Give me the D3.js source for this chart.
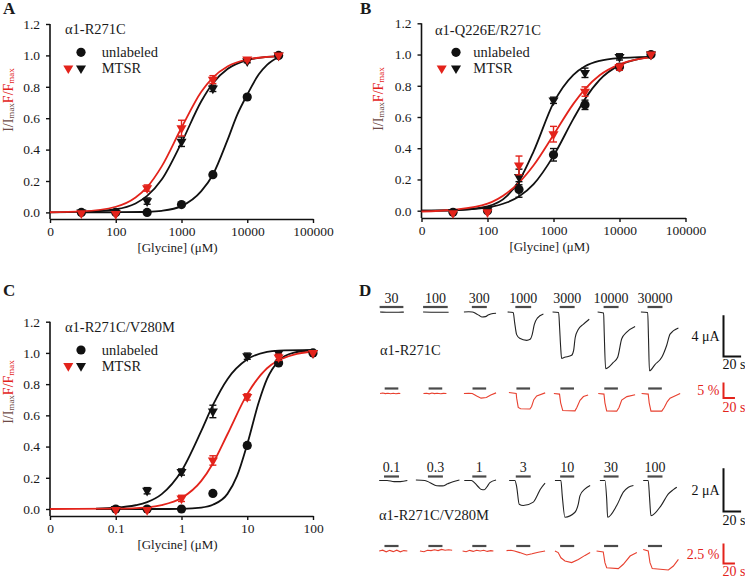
<!DOCTYPE html>
<html><head><meta charset="utf-8">
<script src="https://cdn.jsdelivr.net/npm/d3@7"></script>
<style>body{margin:0;background:#fff}svg{display:block}svg text{font-family:"Liberation Serif","Times New Roman",serif}</style>
</head><body>
<svg id="c" width="745" height="577"></svg>
<script>
// ---------------- DATA ----------------
const concAB = [30, 100, 300, 1000, 3000, 10000, 30000];
const concC = [0.1, 0.3, 1, 3, 10, 30, 100];
const xTicksAB = [10, 100, 1000, 10000, 100000];
const xTickLabelsAB = ["0", "100", "1000", "10000", "100000"];
const xTicksC = [0.01, 0.1, 1, 10, 100];
const xTickLabelsC = ["0", "0.1", "1", "10", "100"];
const yTicks = [0, 0.2, 0.4, 0.6, 0.8, 1.0, 1.2];

// Panel A: a1-R271C
const A_unlabeled = [0.0, 0.0, 0.0, 0.05, 0.24, 0.735, 1.0];
const A_unlabeledErr = [0, 0, 0, 0.01, 0.01, 0.015, 0];
const A_mtsrRed = [-0.005, -0.01, 0.155, 0.537, 0.846, 0.975, 1.0];
const A_mtsrRedErr = [0, 0, 0.02, 0.05, 0.025, 0.01, 0];
const A_mtsrBlack = [0.0, -0.005, 0.072, 0.45, 0.79, 0.963, 1.0];
const A_mtsrBlackErr = [0, 0, 0.02, 0.03, 0.02, 0.01, 0];
const A_fitRed = [[10,0.001],[30,0.006],[100,0.036],[200,0.095],[300,0.161],[500,0.293],[1000,0.539],[2000,0.768],[3000,0.859],[5000,0.929],[10000,0.974],[20000,0.99],[30000,0.995]];
const A_fitBlack = [[10,0.0005],[30,0.003],[100,0.02],[200,0.057],[300,0.105],[500,0.209],[1000,0.444],[2000,0.708],[3000,0.823],[5000,0.913],[10000,0.97],[20000,0.99],[30000,0.995]];
const A_fitUnlabeled = [[30,0],[100,0.001],[300,0.004],[500,0.01],[1000,0.04],[2000,0.135],[3000,0.24],[5000,0.46],[7000,0.62],[10000,0.75],[15000,0.88],[20000,0.94],[30000,0.99]];

// Panel B: a1-Q226E/R271C
const B_unlabeled = [-0.01, 0.0, 0.136, 0.358, 0.678, 0.92, 1.0];
const B_unlabeledErr = [0, 0, 0.05, 0.04, 0.03, 0.02, 0];
const B_mtsrRed = [-0.015, -0.01, 0.29, 0.49, 0.763, 0.92, 1.0];
const B_mtsrRedErr = [0, 0, 0.06, 0.05, 0.03, 0.02, 0];
const B_mtsrBlack = [-0.01, 0.005, 0.216, 0.707, 0.883, 0.985, 1.0];
const B_mtsrBlackErr = [0, 0.01, 0.05, 0.02, 0.03, 0.02, 0];
const B_fitRed = [[10,-0.005],[30,0.006],[100,0.045],[200,0.115],[300,0.18],[500,0.291],[1000,0.485],[2000,0.684],[3000,0.779],[5000,0.867],[10000,0.937],[20000,0.972],[30000,0.982]];
const B_fitBlack = [[10,0],[30,0.003],[100,0.028],[200,0.096],[300,0.19],[500,0.38],[1000,0.69],[2000,0.87],[3000,0.925],[5000,0.96],[10000,0.978],[20000,0.983],[30000,0.985]];
const B_fitUnlabeled = [[10,0.001],[30,0.004],[100,0.021],[200,0.054],[300,0.091],[500,0.17],[1000,0.351],[2000,0.588],[3000,0.716],[5000,0.838],[10000,0.932],[20000,0.973],[30000,0.985]];

// Panel C: a1-R271C/V280M
const C_unlabeled = [0.0, 0.0, 0.0, 0.10, 0.407, 0.936, 1.0];
const C_unlabeledErr = [0, 0, 0, 0.01, 0.015, 0.01, 0];
const C_mtsrRed = [-0.006, -0.006, 0.068, 0.311, 0.718, 0.972, 1.0];
const C_mtsrRedErr = [0, 0, 0.02, 0.03, 0.02, 0.02, 0];
const C_mtsrBlack = [0.0, 0.117, 0.237, 0.625, 0.979, 1.0, 1.0];
const C_mtsrBlackErr = [0, 0.02, 0.02, 0.04, 0.02, 0.01, 0];
const C_fitRed = [[0.01,0],[0.1,0.002],[0.3,0.011],[0.5,0.025],[1,0.07],[2,0.18],[3,0.292],[5,0.479],[10,0.736],[20,0.902],[30,0.953],[50,0.988],[100,1.009]];
const C_fitBlack = [[0.05,0.003],[0.1,0.008],[0.2,0.024],[0.3,0.044],[0.5,0.095],[1,0.243],[2,0.5],[3,0.665],[5,0.832],[10,0.959],[20,1.007],[30,1.015],[100,1.02]];
const C_fitUnlabeled = [[0.05,0],[0.5,0],[1,0.001],[2,0.009],[3,0.027],[5,0.097],[7,0.212],[10,0.415],[15,0.685],[20,0.833],[30,0.949],[50,1.001],[100,1.017]];

// Panel D: traces, [time (s, relative to application centre), value]
const D_labelsR271C = ["30", "100", "300", "1000", "3000", "10000", "30000"];
const D_labelsV280M = ["0.1", "0.3", "1", "3", "10", "30", "100"];
const D_barDurR271C_I = [27, 28, 17, 18, 17, 17, 17];
const D_barDurR271C_F = [15.5, 15.5, 15.5, 15.5, 15.5, 15.5, 15.5];
const D_barDurV280M_I = [17, 17, 16, 17, 16, 17, 17];
const D_barDurV280M_F = [16, 16, 16, 16, 16, 16, 16];
// current (uA)
const D_R271C_current = [
  [[-13,0],[-6,-0.02],[2,-0.03],[8,-0.02],[14,-0.01]],
  [[-14,0],[-5,-0.02],[4,-0.03],[15,-0.02]],
  [[-17.5,0],[-12,0.02],[-8,0],[-4,-0.15],[0,-0.35],[3,-0.48],[7,-0.45],[10,-0.3],[13,-0.2],[19,-0.12]],
  [[-17.8,0],[-11.4,-0.05],[-9.8,-1.0],[-7.5,-2.2],[-4.1,-2.55],[3.9,-2.75],[7.8,-2.65],[10.3,-2.15],[12.6,-1.2],[16,-0.6],[22.9,-0.2]],
  [[-16.6,0],[-9.7,-0.05],[-8.6,-1.5],[-7.4,-3.4],[-6.3,-4.5],[-2.9,-4.4],[5.1,-4.2],[7.4,-3.7],[9.1,-2.5],[12.6,-1.7],[18.3,-1.2],[25.1,-0.7]],
  [[-15.3,0],[-8.5,-0.1],[-7.8,-2],[-6.2,-5.5],[2.5,-4.9],[7.5,-4.4],[12.1,-2.6],[17.8,-1.95],[27.3,-1.4]],
  [[-16,0],[-8.3,-0.05],[-7.4,-2.5],[-6.3,-5.7],[0,-5.1],[7.7,-4.4],[13.4,-3.2],[17.1,-2.15],[26.6,-1.55]]
];
// fluorescence (%)
const D_R271C_fluor = [
  [[-13,0],[-10,0.15],[-7,-0.05],[-4,0.1],[-1,-0.1],[2,0.1],[5,-0.1],[8,0.05],[10,0]],
  [[-13.6,0],[-10,0.1],[-7,-0.1],[-4,0.15],[-1,-0.05],[2,0.1],[6,-0.1],[9,0.05],[12.5,0]],
  [[-17.5,0],[-12,0.1],[-8,0],[-3,-0.8],[2,-1.5],[8,-1.3],[13,-0.5],[19,0.2]],
  [[-16.3,0.3],[-8,0],[-7.5,-1.5],[-5.7,-4.5],[-3,-4.9],[7.6,-5.0],[9.5,-4.2],[12,-2],[15.3,-0.8],[24.9,0.2]],
  [[-15.1,0],[-8.7,-0.2],[-7.4,-3],[-5,-5.5],[8.9,-5.6],[11,-4.5],[14.6,-2.2],[18.5,-1],[23.8,-0.5]],
  [[-14.6,0],[-8.1,-0.2],[-7,-3],[-5,-5.6],[6.4,-5.7],[9,-4.5],[12.1,-2.1],[18,-1],[27.3,-0.4]],
  [[-15.2,0],[-7.7,-0.2],[-6.6,-3],[-4.6,-5.7],[7.7,-5.7],[10.5,-4.5],[14,-2.6],[17.1,-1.5],[28.6,0]]
];
const D_V280M_current = [
  [[-14,0],[-5,0],[3,-0.05],[10,-0.05],[18,0]],
  [[-22.2,0.02],[-12,0],[-6,-0.1],[1.5,-0.24],[8,-0.25],[14,-0.15],[20,-0.06],[27.3,0.02]],
  [[-17.1,0],[-9,0],[-5,-0.12],[-1,-0.3],[2.5,-0.42],[5.5,-0.43],[8.5,-0.3],[12,-0.1],[19,0.02]],
  [[-16,0],[-9.5,0],[-7.5,-0.28],[-4.6,-1.1],[0,-1.16],[11.4,-1.0],[15.3,-0.74],[19.1,-0.43],[24.8,-0.12]],
  [[-13.9,0],[-7.1,0],[-5.6,-0.7],[-2.5,-1.7],[8.9,-1.47],[12.7,-1.08],[14.6,-0.7],[20.3,-0.39],[26.1,-0.23]],
  [[-12.7,0],[-7,0],[-5,-0.85],[-3.9,-1.7],[6.4,-1.16],[13.9,-0.54],[19.7,-0.31],[25.4,-0.23]],
  [[-13.4,0],[-7.7,0],[-6.1,-0.85],[-4.6,-1.63],[6.9,-1.16],[15.2,-0.62],[20.9,-0.42],[24.8,-0.31]]
];
const D_V280M_fluor = [
  [[-14,0],[-10,0.1],[-6,-0.1],[-2,0.08],[2,-0.08],[6,0.1],[10,-0.1],[14,0.05],[18,0]],
  [[-17.6,0],[-13,-0.1],[-9,0.1],[-5,0.05],[-1,0.15],[3,0.05],[7,0.2],[11,0.1],[15,0.15],[19,0.1]],
  [[-19,0],[-15,-0.1],[-11,0.08],[-7,-0.05],[-3,0.1],[1,0],[5,0.1],[9,-0.05],[13,0.05],[16,0]],
  [[-19,0.05],[-14,0.1],[-10,0],[-4,-0.2],[3.9,-0.5],[10,-0.35],[17,-0.15],[24.8,0]],
  [[-13.9,0],[-10.2,-0.2],[-7.1,-0.85],[-2.5,-1.25],[5.1,-1.45],[12.7,-1.05],[20.3,-0.55],[26.1,-0.2]],
  [[-16.5,0],[-8.9,-0.12],[-7,-1.46],[-5,-2.09],[8.2,-2.2],[13.9,-1.66],[21.6,-0.63],[29.3,-0.2]],
  [[-13.4,0.2],[-7.7,0],[-5.7,-1.46],[-3.1,-2.2],[15.2,-2.38],[20.9,-1.88],[26.6,-1.04]]
];

// ---------------- DRAWING ----------------
const FONT = '"Liberation Serif","Times New Roman",serif';
const RED = "#e3231b", BLACK = "#111", BROWN = "#6e4a46", TXT = "#1a1a1a";
const svg = d3.select("#c").attr("font-family", FONT);

function triangle(size) { return d3.symbol(d3.symbolTriangle, size)(); }

function drawPanel(cfg) {
  const g = svg.append("g");
  const x = d3.scaleLog().domain(cfg.xDomain).range(cfg.xRange);
  const y = d3.scaleLinear().domain([0, 1.2]).range(cfg.yRange);

  // axes
  const yAx = g.append("g").attr("transform", `translate(${cfg.xRange[0]},0)`)
    .call(d3.axisLeft(y).tickValues(yTicks).tickFormat(d3.format(".1f")).tickSize(4).tickPadding(6));
  yAx.select(".domain").remove();
  yAx.attr("font-family", FONT).attr("font-size", 13.5);
  yAx.selectAll("line").attr("stroke", BLACK).attr("stroke-width", 1.4);
  yAx.selectAll("text").attr("fill", TXT);
  g.append("line").attr("x1", cfg.xRange[0]).attr("x2", cfg.xRange[0])
    .attr("y1", y(1.2)).attr("y2", cfg.xAxisY).attr("stroke", BLACK).attr("stroke-width", 1.6);

  const xAx = g.append("g").attr("transform", `translate(0,${cfg.xAxisY})`)
    .call(d3.axisBottom(x).tickValues(cfg.xTicks).tickFormat((d, i) => cfg.xTickLabels[i]).tickSize(4).tickSizeOuter(0).tickPadding(3));
  xAx.attr("font-family", FONT).attr("font-size", 13.5);
  xAx.selectAll("line").attr("stroke", BLACK).attr("stroke-width", 1.4);
  xAx.select(".domain").attr("stroke", BLACK).attr("stroke-width", 1.6);
  xAx.selectAll("text").attr("fill", TXT);

  g.append("text").attr("x", (cfg.xRange[0] + cfg.xRange[1]) / 2 - 4).attr("y", cfg.xAxisY + 32.5)
    .attr("text-anchor", "middle").attr("font-size", 13).attr("fill", TXT).text("[Glycine] (\u03bcM)");

  // y title
  const yt = g.append("text").attr("transform", `translate(${cfg.yTitle[0]},${cfg.yTitle[1]}) rotate(-90)`)
    .attr("text-anchor", "middle").attr("dominant-baseline", "central").attr("font-size", 14);
  yt.append("tspan").attr("fill", BROWN).text("I/I");
  yt.append("tspan").attr("fill", BROWN).attr("font-size", 9).attr("dy", 3).text("max");
  yt.append("tspan").attr("fill", RED).attr("dy", -3).text("F/F");
  yt.append("tspan").attr("fill", RED).attr("font-size", 9).attr("dy", 3).text("max");

  // panel letter
  g.append("text").attr("x", cfg.letter[0]).attr("y", cfg.letter[1]).attr("font-size", 17)
    .attr("font-weight", "bold").attr("fill", TXT).text(cfg.letterText);

  // fit curves
  const line = d3.line().x(d => x(d[0])).y(d => y(d[1])).curve(d3.curveMonotoneX);
  [[cfg.fitUnlabeled, BLACK], [cfg.fitBlack, BLACK], [cfg.fitRed, RED]].forEach(([pts, col]) => {
    g.append("path").attr("d", line(pts)).attr("fill", "none").attr("stroke", col).attr("stroke-width", 1.8);
  });

  // error bars + markers
  const series = [
    {vals: cfg.unlabeled, err: cfg.unlabeledErr, col: BLACK, shape: "circle"},
    {vals: cfg.mtsrBlack, err: cfg.mtsrBlackErr, col: BLACK, shape: "tri"},
    {vals: cfg.mtsrRed, err: cfg.mtsrRedErr, col: RED, shape: "tri"}
  ];
  series.forEach(s => {
    s.vals.forEach((v, i) => {
      const cx = x(cfg.conc[i]), cy = y(v), e = s.err[i];
      if (e > 0) {
        const y1 = y(v + e), y2 = y(v - e);
        g.append("line").attr("x1", cx).attr("x2", cx).attr("y1", y1).attr("y2", y2).attr("stroke", s.col).attr("stroke-width", 1.4);
        [y1, y2].forEach(yy => g.append("line").attr("x1", cx - 3.5).attr("x2", cx + 3.5).attr("y1", yy).attr("y2", yy).attr("stroke", s.col).attr("stroke-width", 1.4));
      }
      if (s.shape === "circle") {
        g.append("circle").attr("cx", cx).attr("cy", cy).attr("r", 4.6).attr("fill", s.col);
      } else {
        g.append("path").attr("d", triangle(44)).attr("transform", `translate(${cx},${cy}) rotate(180)`).attr("fill", s.col);
      }
    });
  });

  // legend
  const L = cfg.legend;
  g.append("text").attr("x", L.tx).attr("y", L.ty).attr("font-size", 14.5).attr("fill", TXT).text(cfg.title);
  g.append("circle").attr("cx", L.cx).attr("cy", L.cy).attr("r", 4.6).attr("fill", BLACK);
  g.append("text").attr("x", L.textX).attr("y", L.cy + 5).attr("font-size", 14.5).attr("fill", TXT).text("unlabeled");
  g.append("path").attr("d", triangle(44)).attr("transform", `translate(${L.redX},${L.triY}) rotate(180)`).attr("fill", RED);
  g.append("path").attr("d", triangle(44)).attr("transform", `translate(${L.cx},${L.triY}) rotate(180)`).attr("fill", BLACK);
  g.append("text").attr("x", L.textX).attr("y", L.triY + 5).attr("font-size", 14.5).attr("fill", TXT).text("MTSR");
}

drawPanel({
  xDomain: [10, 100000], xRange: [50, 313], yRange: [212.4, 24], xAxisY: 219,
  xTicks: xTicksAB, xTickLabels: xTickLabelsAB, conc: concAB,
  unlabeled: A_unlabeled, unlabeledErr: A_unlabeledErr, mtsrRed: A_mtsrRed, mtsrRedErr: A_mtsrRedErr,
  mtsrBlack: A_mtsrBlack, mtsrBlackErr: A_mtsrBlackErr,
  fitRed: A_fitRed, fitBlack: A_fitBlack, fitUnlabeled: A_fitUnlabeled,
  title: "\u03b11-R271C", legend: {tx: 65, ty: 33.5, cx: 81, cy: 52.3, textX: 101.7, redX: 68.3, triY: 68.3},
  yTitle: [8, 100], letter: [3, 14], letterText: "A"
});
drawPanel({
  xDomain: [10, 100000], xRange: [421.5, 685.5], yRange: [210.7, 23.3], xAxisY: 218,
  xTicks: xTicksAB, xTickLabels: xTickLabelsAB, conc: concAB,
  unlabeled: B_unlabeled, unlabeledErr: B_unlabeledErr, mtsrRed: B_mtsrRed, mtsrRedErr: B_mtsrRedErr,
  mtsrBlack: B_mtsrBlack, mtsrBlackErr: B_mtsrBlackErr,
  fitRed: B_fitRed, fitBlack: B_fitBlack, fitUnlabeled: B_fitUnlabeled,
  title: "\u03b11-Q226E/R271C", legend: {tx: 435, ty: 34.5, cx: 456, cy: 52.3, textX: 473.3, redX: 441.7, triY: 68.3},
  yTitle: [378, 99], letter: [360, 14], letterText: "B"
});
drawPanel({
  xDomain: [0.01, 100], xRange: [50, 313], yRange: [509, 321.7], xAxisY: 516,
  xTicks: xTicksC, xTickLabels: xTickLabelsC, conc: concC,
  unlabeled: C_unlabeled, unlabeledErr: C_unlabeledErr, mtsrRed: C_mtsrRed, mtsrRedErr: C_mtsrRedErr,
  mtsrBlack: C_mtsrBlack, mtsrBlackErr: C_mtsrBlackErr,
  fitRed: C_fitRed, fitBlack: C_fitBlack, fitUnlabeled: C_fitUnlabeled,
  title: "\u03b11-R271C/V280M", legend: {tx: 65, ty: 332, cx: 81, cy: 350, textX: 101.7, redX: 68.3, triY: 366},
  yTitle: [8, 392], letter: [3, 296], letterText: "C"
});

// ---------------- PANEL D ----------------
const gD = svg.append("g");
gD.append("text").attr("x", 359).attr("y", 296).attr("font-size", 17).attr("font-weight", "bold").attr("fill", TXT).text("D");

const pos = d3.scalePoint().domain(d3.range(7)).range([391.5, 655]);
const pxPerSec = 0.88;
const tScale = d3.scaleLinear().domain([0, 1]).range([0, pxPerSec]);

const rows = [
  {traces: D_R271C_current, bars: D_barDurR271C_I, base: 312, barY: 307, ppu: 10.3, col: "#222", curve: d3.curveMonotoneX, labels: D_labelsR271C, labelY: 302.5,
   sb: {value: 4, text: "4 \u03bcA", bottom: 356.5, hlen: 20, col: BLACK, sbTextY: 368.5}},
  {traces: D_R271C_fluor, bars: D_barDurR271C_F, base: 393.5, barY: 388.5, ppu: 3.1, col: "#e8402f", curve: d3.curveLinear,
   sb: {value: 5, text: "5 %", bottom: 398, hlen: 13, col: RED, sbTextY: 412}},
  {traces: D_V280M_current, bars: D_barDurV280M_I, base: 480.5, barY: 476.5, ppu: 21.6, col: "#222", curve: d3.curveMonotoneX, labels: D_labelsV280M, labelY: 471.5,
   sb: {value: 2, text: "2 \u03bcA", bottom: 511.5, hlen: 20, col: BLACK, sbTextY: 524.5}},
  {traces: D_V280M_fluor, bars: D_barDurV280M_F, base: 551, barY: 546, ppu: 8, col: "#e8402f", curve: d3.curveLinear,
   sb: {value: 2.5, text: "2.5 %", bottom: 563.5, hlen: 13, col: RED, sbTextY: 575.5}}
];

rows.forEach(r => {
  const yv = d3.scaleLinear().domain([0, -1]).range([r.base, r.base + r.ppu]);
  r.traces.forEach((tr, i) => {
    const cx = pos(i);
    const ln = d3.line().x(d => cx + tScale(d[0])).y(d => yv(d[1])).curve(r.curve);
    gD.append("path").attr("d", ln(tr)).attr("fill", "none").attr("stroke", r.col).attr("stroke-width", 1.1);
    const half = r.bars[i] / 2;
    gD.append("line").attr("x1", cx + tScale(-half)).attr("x2", cx + tScale(half))
      .attr("y1", r.barY).attr("y2", r.barY).attr("stroke", "#4a4a4a").attr("stroke-width", 2.2);
    if (r.labels) {
      gD.append("text").attr("x", cx).attr("y", r.labelY).attr("text-anchor", "middle")
        .attr("font-size", 14).attr("fill", TXT).text(r.labels[i]);
    }
  });
  // scale bar
  const sb = r.sb, xL = 723.5;
  const top = sb.bottom - sb.value * r.ppu;
  gD.append("path").attr("d", `M${xL},${top}V${sb.bottom}H${xL + tScale(sb.hlen)}`)
    .attr("fill", "none").attr("stroke", sb.col).attr("stroke-width", 2);
  gD.append("text").attr("x", xL - 4).attr("y", (top + sb.bottom) / 2 + 5).attr("text-anchor", "end")
    .attr("font-size", 14).attr("fill", sb.col).text(sb.text);
  gD.append("text").attr("x", xL - 1).attr("y", sb.sbTextY).attr("font-size", 14).attr("fill", sb.col).text("20 s");
});

gD.append("text").attr("x", 380).attr("y", 355).attr("font-size", 14.5).attr("fill", TXT).text("\u03b11-R271C");
gD.append("text").attr("x", 379).attr("y", 520).attr("font-size", 14.5).attr("fill", TXT).text("\u03b11-R271C/V280M");
</script>
</body></html>
